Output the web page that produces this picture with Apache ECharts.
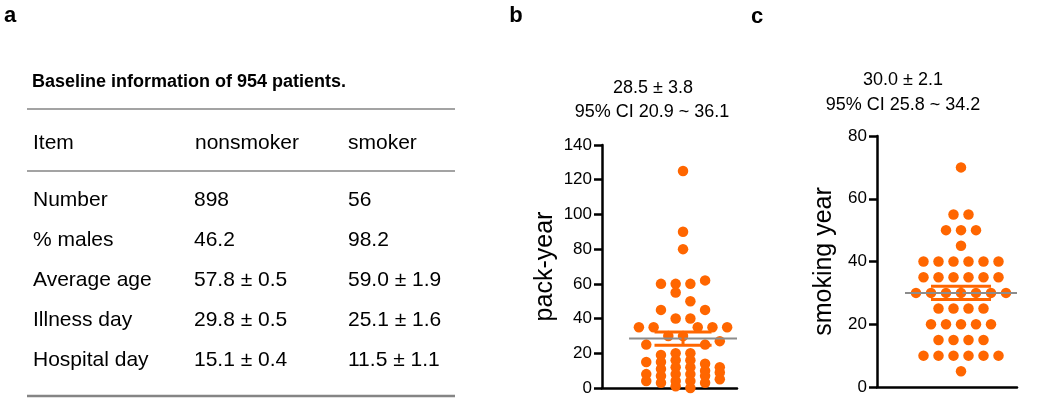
<!DOCTYPE html>
<html><head><meta charset="utf-8">
<script src="https://cdn.jsdelivr.net/npm/echarts@6/dist/echarts.min.js"></script>
<style>html,body{margin:0;padding:0;background:#fff}#c{width:1050px;height:402px}</style>
</head><body><div id="c"></div>
<script>
// ---------- Panel a: table ----------
const tableTitle = 'Baseline information of 954 patients.';
const tableHeader = ['Item', 'nonsmoker', 'smoker'];
const tableItems = ['Number', '% males', 'Average age', 'Illness day', 'Hospital day'];
const nonsmokerValues = ['898', '46.2', '57.8 ± 0.5', '29.8 ± 0.5', '15.1 ± 0.4'];
const smokerValues = ['56', '98.2', '59.0 ± 1.9', '25.1 ± 1.6', '11.5 ± 1.1'];

// ---------- Panel b: pack-year (dots grouped in rows as in the swarm) ----------
const packYearRows = [
  [125], [90], [80],
  [60, 60, 60, 62],
  [55, 50],
  [45, 40, 40, 45],
  [35, 35, 30, 30, 35, 35, 35],
  [25, 19, 20, 20, 25, 27],
  [15, 15, 16, 16, 14, 12],
  [8, 11, 12, 12, 10, 9],
  [4, 7, 8, 8, 7, 5],
  [3, 4, 4, 3],
  [1, 0]
];
const packYearMean = 28.5;
const packYearSE = 3.8;
const packYearCI = [20.9, 36.1];
const packYearTicks = [0, 140, 20];

// ---------- Panel c: smoking year ----------
const smokingYearRows = [
  [70],
  [55, 55],
  [50, 50, 50],
  [45],
  [40, 40, 40, 40, 40, 40],
  [35, 35, 35, 35, 35, 35],
  [30, 30, 30, 30, 30, 30, 30],
  [25, 25, 25, 25],
  [20, 20, 20, 20, 20],
  [15, 15, 15, 15],
  [10, 10, 10, 10, 10, 10],
  [5]
];
const smokingYearMean = 30.0;
const smokingYearSE = 2.1;
const smokingYearCI = [25.8, 34.2];
const smokingYearTicks = [0, 80, 20];

const FONT = "'Liberation Sans', Arial, Helvetica, sans-serif";
const ORANGE = '#FF6600';

function swarm(rows) {
  const out = [];
  rows.forEach(row => {
    const n = row.length;
    row.forEach((v, i) => out.push([i - (n - 1) / 2, v]));
  });
  return out;
}

function errRender(capHalf, meanHalf) {
  return function (params, api) {
    const m = api.value(0), se = api.value(1);
    const p = (x, y) => api.coord([x, y]);
    const line = (a, b, color, w) => ({
      type: 'line',
      shape: { x1: a[0], y1: a[1], x2: b[0], y2: b[1] },
      style: { stroke: color, lineWidth: w }
    });
    return {
      type: 'group',
      children: [
        line(p(-meanHalf, m), p(meanHalf, m), '#8c8c8c', 2),
        line(p(-capHalf, m + se), p(capHalf, m + se), ORANGE, 3),
        line(p(-capHalf, m - se), p(capHalf, m - se), ORANGE, 3),
        line(p(0, m - se), p(0, m + se), ORANGE, 3)
      ]
    };
  };
}

function yAxisCfg(gi, ticks, name, gap) {
  return {
    gridIndex: gi, type: 'value', min: ticks[0], max: ticks[1], interval: ticks[2],
    name: name, nameLocation: 'middle', nameGap: gap,
    nameTextStyle: { fontFamily: FONT, fontSize: 25, color: '#000' },
    axisLine: { show: true, onZero: false, lineStyle: { color: '#000', width: 2.5 } },
    axisTick: { show: true, length: 8, lineStyle: { color: '#000', width: 2.5 } },
    axisLabel: { fontFamily: FONT, fontSize: 17, color: '#000', margin: 10 },
    splitLine: { show: false }
  };
}
function xAxisCfg(gi, min, max) {
  return {
    gridIndex: gi, type: 'value', min: min, max: max,
    axisLine: { show: true, onZero: false, lineStyle: { color: '#000', width: 2.5 } },
    axisTick: { show: false }, axisLabel: { show: false }, splitLine: { show: false }
  };
}

// table graphics
const g = [];
const txt = (x, y, s, size, weight, align) => g.push({
  type: 'text', x: x, y: y,
  style: { text: s, fontFamily: FONT, fontSize: size, fontWeight: weight || 'normal', fill: '#000',
           textAlign: align || 'left', textVerticalAlign: 'middle' }
});
const hline = (y, w) => g.push({
  type: 'line', shape: { x1: 27, y1: y, x2: 455, y2: y },
  style: { stroke: '#858585', lineWidth: w }
});
txt(10, 16, 'a', 22, 'bold', 'center');
txt(516, 16, 'b', 22, 'bold', 'center');
txt(757, 17, 'c', 22, 'bold', 'center');
txt(32, 82, tableTitle, 18, 'bold');
hline(109, 1.5);
txt(33, 143, tableHeader[0], 21);
txt(195, 143, tableHeader[1], 21);
txt(348, 143, tableHeader[2], 21);
hline(171, 1.5);
tableItems.forEach((it, i) => {
  const y = 200 + i * 40;
  txt(33, y, it, 21);
  txt(194, y, nonsmokerValues[i], 21);
  txt(348, y, smokerValues[i], 21);
});
hline(396, 2.5);

// stats texts
txt(653, 88, packYearMean.toFixed(1) + ' ± ' + packYearSE.toFixed(1), 18, 'normal', 'center');
txt(652, 112, '95% CI ' + packYearCI[0].toFixed(1) + ' ~ ' + packYearCI[1].toFixed(1), 18, 'normal', 'center');
txt(903, 80, smokingYearMean.toFixed(1) + ' ± ' + smokingYearSE.toFixed(1), 18, 'normal', 'center');
txt(903, 105, '95% CI ' + smokingYearCI[0].toFixed(1) + ' ~ ' + smokingYearCI[1].toFixed(1), 18, 'normal', 'center');

const chart = echarts.init(document.getElementById('c'), null, { renderer: 'canvas' });
chart.setOption({
  animation: false,
  backgroundColor: '#fff',
  grid: [
    { left: 602, top: 145, width: 135, height: 243 },
    { left: 877, top: 136, width: 140, height: 251 }
  ],
  xAxis: [xAxisCfg(0, -5.51, 3.67), xAxisCfg(1, -5.6, 3.733)],
  yAxis: [yAxisCfg(0, packYearTicks, 'pack-year', 44), yAxisCfg(1, smokingYearTicks, 'smoking year', 40)],
  series: [
    { type: 'scatter', xAxisIndex: 0, yAxisIndex: 0, data: swarm(packYearRows),
      symbolSize: 10.5, itemStyle: { color: ORANGE, opacity: 1 }, z: 2 },
    { type: 'scatter', xAxisIndex: 1, yAxisIndex: 1, data: swarm(smokingYearRows),
      symbolSize: 10.5, itemStyle: { color: ORANGE, opacity: 1 }, z: 2 },
    { type: 'custom', xAxisIndex: 0, yAxisIndex: 0, data: [[packYearMean, packYearSE]],
      encode: { x: -1, y: 0 }, renderItem: errRender(1.94, 3.67), z: 5 },
    { type: 'custom', xAxisIndex: 1, yAxisIndex: 1, data: [[smokingYearMean, smokingYearSE]],
      encode: { x: -1, y: 0 }, renderItem: errRender(2.0, 3.733), z: 5 }
  ],
  graphic: g
});
</script>
</body></html>
